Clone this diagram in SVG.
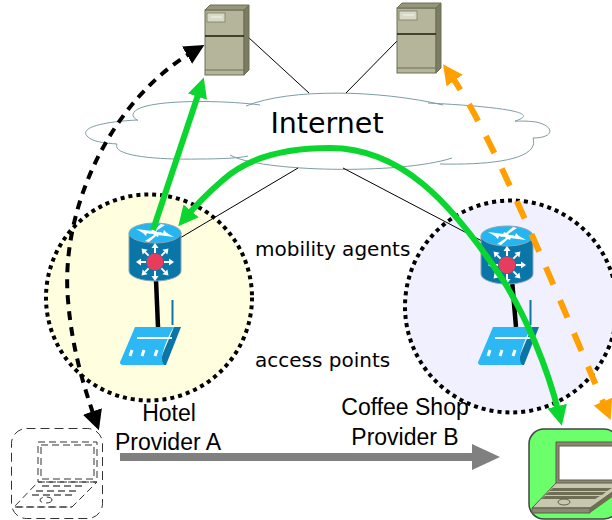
<svg xmlns="http://www.w3.org/2000/svg" width="612" height="520" viewBox="0 0 612 520">
<style>
.sans{font-family:"DejaVu Sans",sans-serif;fill:#000}
.lib{font-family:"Liberation Sans",sans-serif;fill:#000}
.thin{stroke:#000;stroke-width:1;fill:none}
.cl{fill:none;stroke:#7d9da3;stroke-width:1}
.srvf{fill:#b5b59c;stroke:#6e6e55;stroke-width:1}
.srvd{fill:#7c7c62;stroke:#6e6e55;stroke-width:1}
.srvt{fill:#96967c;stroke:#6e6e55;stroke-width:1}
</style>
<defs>
<marker id="mg" markerUnits="userSpaceOnUse" markerWidth="24" markerHeight="24" refX="8" refY="10" orient="auto-start-reverse"><path d="M0,0L20,10L0,20z" fill="#0bd62f"/></marker>
<marker id="mo" markerUnits="userSpaceOnUse" markerWidth="24" markerHeight="24" refX="8" refY="10" orient="auto-start-reverse"><path d="M0,0L20,10L0,20z" fill="#ffa000"/></marker>
<marker id="mk" markerUnits="userSpaceOnUse" markerWidth="24" markerHeight="24" refX="8" refY="10" orient="auto-start-reverse"><path d="M0,0L20,10L0,20z" fill="#000"/></marker>
<marker id="mgr" markerUnits="userSpaceOnUse" markerWidth="30" markerHeight="30" refX="4" refY="13" orient="auto"><path d="M0,0L28,13L0,26z" fill="#808080"/></marker>
<g id="server">
<rect x="0" y="5" width="39" height="65" class="srvf"/>
<path d="M39,5L44,0V65L39,70z" class="srvd"/>
<path d="M0,5L5,0H44L39,5z" class="srvt"/>
<rect x="2" y="8" width="18" height="9" fill="#d9d9c8" stroke="#8a8a70"/>
<path d="M6,12H17" stroke="#f4f4ea"/>
<path d="M0,31H39" stroke="#1c1c10" stroke-width="1.500"/>
<path d="M0,65H39" stroke="#6e6e55"/>
</g>
<path id="spoke" d="M0,-9V-14" stroke="#fff" stroke-width="2"/>
<path id="tip" d="M-3.500,-14L0,-19L3.500,-14z" fill="#fff"/>
<g id="router">
<path d="M-26,0V38A26,10 0 0 0 26,38V0z" fill="#0a76a8" stroke="#8aa5b5"/>
<ellipse cx="0" cy="0" rx="26" ry="10" fill="#25b5f0" stroke="#8aa5b5"/>
<g fill="#fff"><path d="M-19,-4L-3,-2L-5,1L-8,0L-9,3L-12,0z"/><path d="M19,4L3,2L5,-1L8,0L9,-3L12,0z"/><path d="M-10,8L-1,2L-3,0L5,-1L3,4L1,3L-6,9z"/><path d="M10,-8L1,-2L3,0L-5,1L-3,-4L-1,-3L6,-9z"/></g>
<g transform="translate(0,29)">
<g><use href="#spoke"/><use href="#tip"/></g>
<g transform="rotate(45)"><use href="#spoke"/><use href="#tip"/></g>
<g transform="rotate(90)"><use href="#spoke"/><use href="#tip"/></g>
<g transform="rotate(135)"><use href="#spoke"/><use href="#tip"/></g>
<g transform="rotate(180)"><use href="#spoke"/><use href="#tip"/></g>
<g transform="rotate(225)"><use href="#spoke"/><use href="#tip"/></g>
<g transform="rotate(270)"><use href="#spoke"/><use href="#tip"/></g>
<g transform="rotate(315)"><use href="#spoke"/><use href="#tip"/></g>
<circle cx="0" cy="0" r="8.500" fill="#e63d5e"/>
</g>
</g>
<g id="ap">
<path d="M52.500,-27V-2" stroke="#0a76a8" stroke-width="2"/>
<path d="M54,0H61L46,38H44C41,36 41,31 43,26z" fill="#0a76a8"/>
<path d="M15,0H54C50,5 43,22 42,30C42,34 43,38 44,38H4C0,38 -1,36 1,33z" fill="#2cb8f5"/>
<path d="M17,11H52" stroke="#fff" stroke-width="2"/>
<path d="M12,23L10,29M24,23L22,29M37,23L35,29" stroke="#fff" stroke-width="3"/>
</g>
</defs>

<g id="zone-a"><circle cx="149" cy="297.500" r="103" fill="#ffffe0" stroke="#000" stroke-width="4" stroke-dasharray="4 4"/></g>
<g id="zone-b"><circle cx="511" cy="306.500" r="106" fill="#f0f0ff" stroke="#000" stroke-width="4" stroke-dasharray="4 4"/></g>

<g id="cloud">
<path d="M260,105C225,100 130,98 133,116C135,120 140,121 137,120C100,122 80,128 87,136C92,142 105,143 117,144C112,155 150,160 200,159C220,159 240,158 248,156" class="cl"/>
<path d="M230,155C260,172 400,175 452,158" class="cl"/>
<path d="M440,164C490,165 540,160 533,138C555,138 555,126 536,122C520,120 515,122 515,121C535,115 525,108 428,103" class="cl"/>
<path d="M246,106C290,88 380,90 443,105" class="cl"/>
</g>

<g id="connectors">
<path class="thin" d="M248,37L309,93M397,41L346,93M180,238L298,168M343,168L482,241"/>
<path d="M156,280L158,327M512,280L516,327" stroke="#000" stroke-width="4.500" fill="none"/>
</g>

<g id="server-1"><use href="#server" x="205" y="5"/></g>
<g id="server-2"><use href="#server" x="397" y="3"/></g>
<g id="router-a"><use href="#router" x="155" y="233"/></g>
<g id="router-b"><use href="#router" x="507" y="236"/></g>
<g id="ap-a"><use href="#ap" x="120" y="327"/></g>
<g id="ap-b"><use href="#ap" x="478" y="327"/></g>

<g id="laptop-ghost" fill="none" stroke="#333" stroke-width="1" stroke-dasharray="7 4">
<rect x="11.500" y="428.500" width="91" height="90" rx="15" stroke-dasharray="9 5"/>
<path d="M38,442H97V482H38zM41,445H94V479H41z"/>
<path d="M38,482H97L72,507H14z"/>
<path d="M42,486H84M36,491H80M32,495H76" stroke="#000"/>
<path d="M15,507H72" />
<ellipse cx="46" cy="500" rx="6" ry="3"/>
</g>
<g id="laptop">
<rect x="529" y="429" width="90" height="90" rx="15" fill="#6cff6c" stroke="#444" stroke-width="1.500"/>
<path d="M556,442H620V484H556z" fill="#8a8a72" stroke="#5c5c48"/>
<rect x="559" y="446" width="60" height="34" fill="#fff" stroke="#5c5c48"/>
<path d="M556,483H625L590,508H532z" fill="#c8c8b0" stroke="#5c5c48"/>
<path d="M553,488H612L607,491H549zM549,492H606L602,495H545zM545,496H600L595,499H541z" fill="#6e6e55"/>
<ellipse cx="564" cy="502" rx="6" ry="3" fill="none" stroke="#5c5c48"/>
<path d="M532,508H590V513H532z" fill="#8a8a72" stroke="#5c5c48"/>
<path d="M590,508L625,483V488L590,513z" fill="#6e6e55"/>
</g>

<g id="arrows" fill="none">
<path d="M153,230L200,89" stroke="#0bd62f" stroke-width="6" marker-end="url(#mg)"/>
<path d="M186,217C197,204 209,192 223,180C245,160 280,148 330,148C400,148 450,200 503,280C525,315 547,365 559,414" stroke="#0bd62f" stroke-width="6" marker-start="url(#mg)" marker-end="url(#mg)"/>
<path d="M450,74C490,130 545,265 606,409" stroke="#ffa000" stroke-width="6" stroke-dasharray="19 17" marker-start="url(#mo)" marker-end="url(#mo)"/>
<path d="M194,51C110,100 60,210 68,300C72,350 85,390 95,419" stroke="#000" stroke-width="4" stroke-dasharray="9 7" marker-start="url(#mk)" marker-end="url(#mk)"/>
<path d="M120,457H476" stroke="#808080" stroke-width="8" marker-end="url(#mgr)"/>
</g>

<g id="labels">
<text x="327" y="133" text-anchor="middle" class="sans" font-size="28.500">Internet</text>
<text x="255" y="256" class="sans" font-size="20">mobility agents</text>
<text x="255" y="367" class="sans" font-size="20">access points</text>
<text x="169" y="421" text-anchor="middle" class="lib" font-size="23">Hotel</text>
<text x="168" y="450" text-anchor="middle" class="lib" font-size="23">Provider A</text>
<text x="405" y="415" text-anchor="middle" class="lib" font-size="23">Coffee Shop</text>
<text x="405" y="445" text-anchor="middle" class="lib" font-size="23">Provider B</text>
</g>
</svg>
